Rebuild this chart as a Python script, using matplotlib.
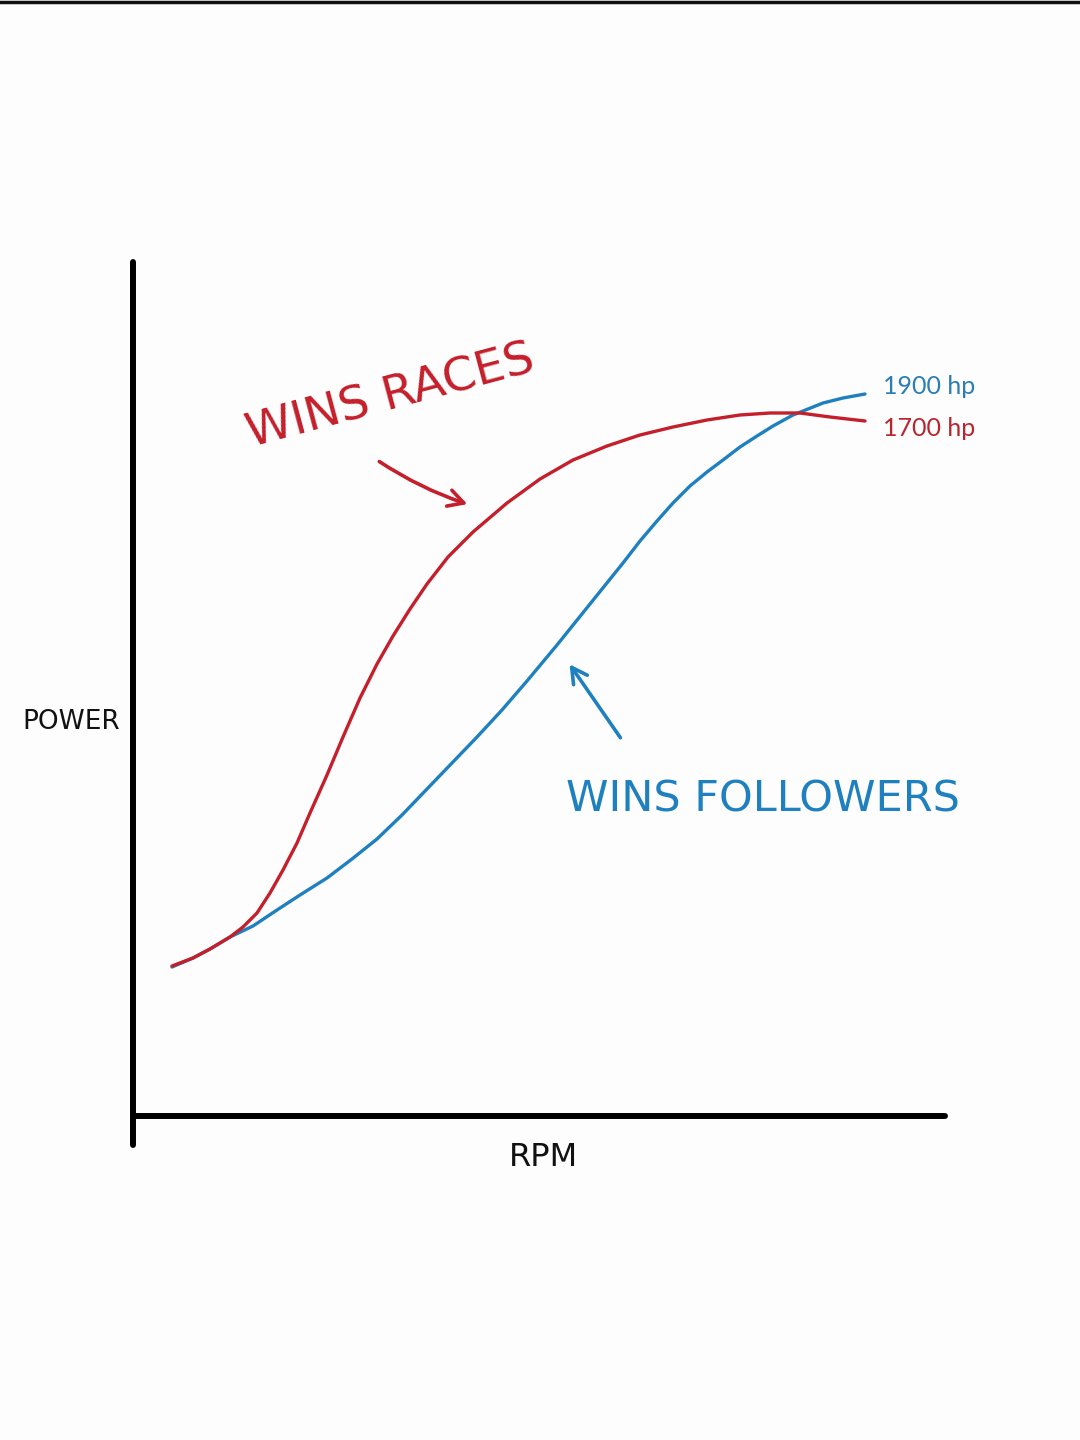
import matplotlib
matplotlib.use("Agg")
import matplotlib.pyplot as plt
from matplotlib.lines import Line2D

# Data (arbitrary units: RPM along x, power along y)
red_rpm = [37, 58, 75, 95, 108, 122, 135, 148, 162, 175, 192, 208, 225, 242, 258,
           275, 292, 313, 338, 372, 405, 438, 472, 505, 538, 572, 605, 635, 665,
           695, 730]
red_power = [150, 158, 167, 179, 189, 203, 223, 246, 273, 303, 341, 379, 418, 452,
             480, 507, 532, 559, 584, 613, 637, 656, 670, 681, 689, 696, 701, 703,
             703, 699, 695]

blue_rpm = [37, 58, 75, 95, 118, 142, 165, 192, 217, 242, 267, 292, 317, 342, 367,
            392, 422, 455, 488, 505, 522, 538, 555, 572, 588, 605, 622, 638, 658,
            673, 688, 708, 730]
blue_power = [149, 158, 167, 179, 190, 206, 221, 238, 257, 277, 301, 327, 353, 379,
              406, 435, 471, 512, 553, 575, 595, 613, 630, 644, 656, 669, 680, 690,
              701, 707, 713, 718, 722]

red_label = "1700 hp"
blue_label = "1900 hp"
red_note = "WINS RACES"
blue_note = "WINS FOLLOWERS"
x_label = "RPM"
y_label = "POWER"

RED = "#c41f2b"
BLUE = "#1f80c0"

fig = plt.figure(figsize=(10.8, 14.4), dpi=100, facecolor="#fdfdfd")
ax = fig.add_axes([135/1080, (1440-1116)/1440, 810/1080, 854/1440])
ax.set_facecolor("none")
ax.set_xlim(0, 810)
ax.set_ylim(0, 854)
for s in ax.spines.values():
    s.set_visible(False)
ax.set_xticks([])
ax.set_yticks([])

# axis lines
ax.plot([-2, -2], [-29, 854], color="black", lw=4.3, solid_capstyle="round", clip_on=False)
ax.plot([0, 810], [0, 0], color="black", lw=4.3, solid_capstyle="round", clip_on=False)

# curves
ax.plot(blue_rpm, blue_power, color=BLUE, lw=2.4, solid_joinstyle="round",
        solid_capstyle="round", clip_on=False)
ax.plot(red_rpm, red_power, color=RED, lw=2.4, solid_joinstyle="round",
        solid_capstyle="round", clip_on=False)

# end labels
ax.text(748, 730, blue_label, color="#2a7db5", fontsize=18, family="Lato",
        ha="left", va="center")
ax.text(748, 687, red_label, color="#b8262f", fontsize=18, family="Lato",
        ha="left", va="center")

# axis labels
ax.text(-64, 394, y_label, color="#111111", fontsize=19, ha="center", va="center",
        clip_on=False)
ax.text(408, -41, x_label, color="#111111", fontsize=23, ha="center", va="center",
        clip_on=False)

# annotations
ax.text(256, 719, red_note, color=RED, fontsize=34, rotation=15, ha="center",
        va="center", rotation_mode="anchor")
ax.annotate("", xy=(335, 611), xytext=(242, 656),
            arrowprops=dict(arrowstyle="->,head_length=1.1,head_width=0.6",
                            color=RED, lw=2.6, connectionstyle="arc3,rad=0.07"))
ax.text(628, 316, blue_note, color=BLUE, fontsize=31, ha="center", va="center")
ax.annotate("", xy=(433, 454), xytext=(487, 376),
            arrowprops=dict(arrowstyle="->,head_length=1.1,head_width=0.6",
                            color=BLUE, lw=2.6))

# top border line
fig.add_artist(Line2D([0, 1], [1 - 1.5/1440, 1 - 1.5/1440], color="#111111", lw=2.5,
                      transform=fig.transFigure))

fig.savefig("out.png", dpi=100, facecolor=fig.get_facecolor())
